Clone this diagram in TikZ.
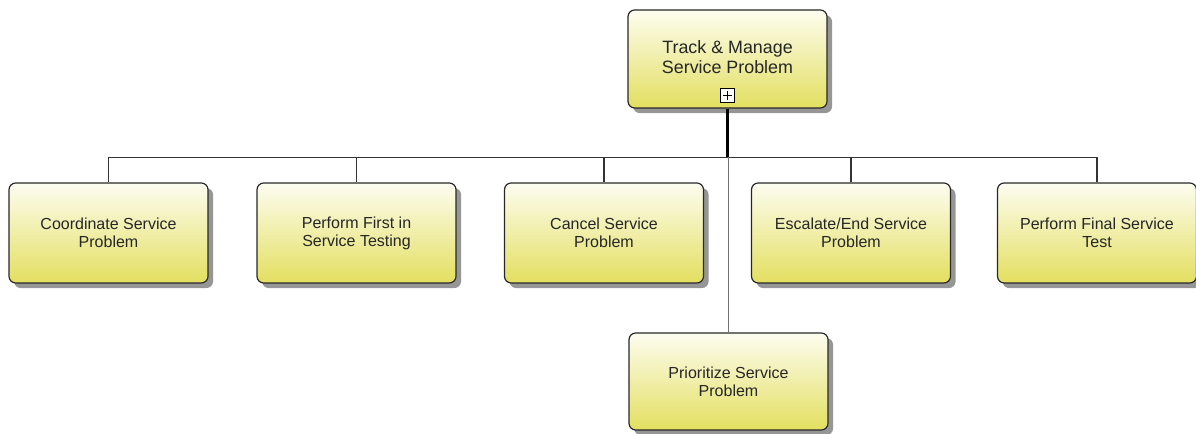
\documentclass[tikz,border=0pt]{standalone}
\usepackage{fontspec}
\setmainfont{Liberation Sans}
\usetikzlibrary{shadows}
\definecolor{boxtop}{RGB}{253,253,240}
\definecolor{boxbot}{RGB}{227,223,96}
\definecolor{edge}{RGB}{40,40,40}
\definecolor{shade}{RGB}{150,150,150}
\tikzset{
  task/.style={rectangle, rounded corners=5pt, draw=edge, line width=0.9pt,
    top color=boxtop, bottom color=boxbot,
    minimum width=199*0.75pt, minimum height=100*0.75pt, inner sep=0pt,
    drop shadow={shadow xshift=3.8pt, shadow yshift=-3.8pt, fill=shade, opacity=1},
    align=center, font=\fontsize{12}{13.5}\selectfont, text=black!85},
  toptext/.style={align=center, font=\fontsize{13.4}{15}\selectfont, text=black!85, inner sep=0pt},
  expander/.style={draw=black, fill=white, line width=0.75pt, minimum size=14*0.75pt, inner sep=0pt},
  bus/.style={draw=black!80, line width=0.9pt},
  trunk/.style={draw=black, line width=1.6pt},
  drop/.style={draw=black!55, line width=1.1pt},
}
\begin{document}
\begin{tikzpicture}[x=0.75pt, y=-0.75pt]
\useasboundingbox (0,0) rectangle (1196,434);

% parent process
\node[task, minimum height=98*0.75pt] (top) at (727.5,59) {};
\node[toptext] (toplabel) at (727.5,57) {Track \& Manage\\Service Problem};
\node[expander] (plus) at (727.5,95.5) {};
\draw[line width=0.9pt] ([xshift=-3.6pt]plus.center) -- ([xshift=3.6pt]plus.center)
      ([yshift=-3.6pt]plus.center) -- ([yshift=3.6pt]plus.center);

% child processes
\node[task] (c1) at (108.5,233) {Coordinate Service\\Problem};
\node[task] (c2) at (356.5,233) {Perform First in\\Service Testing};
\node[task] (c3) at (604,233)   {Cancel Service\\Problem};
\node[task] (c4) at (851,233)   {Escalate/End Service\\Problem};
\node[task] (c5) at (1097,233)  {Perform Final Service\\Test};
\node[task, minimum height=97*0.75pt] (c6) at (728.5,381.5) {Prioritize Service\\Problem};

% connectors
\coordinate (hub) at (727.5,157.5);
\draw[bus] (c1.north |- hub) -- (c5.north |- hub);
\foreach \c in {c1,c2,c3,c4,c5} \draw[bus] (\c.north |- hub) -- (\c.north);
\draw[drop] (c6.north |- hub) -- (c6.north);
\draw[trunk] (top.south) -- (hub);
\end{tikzpicture}
\end{document}
